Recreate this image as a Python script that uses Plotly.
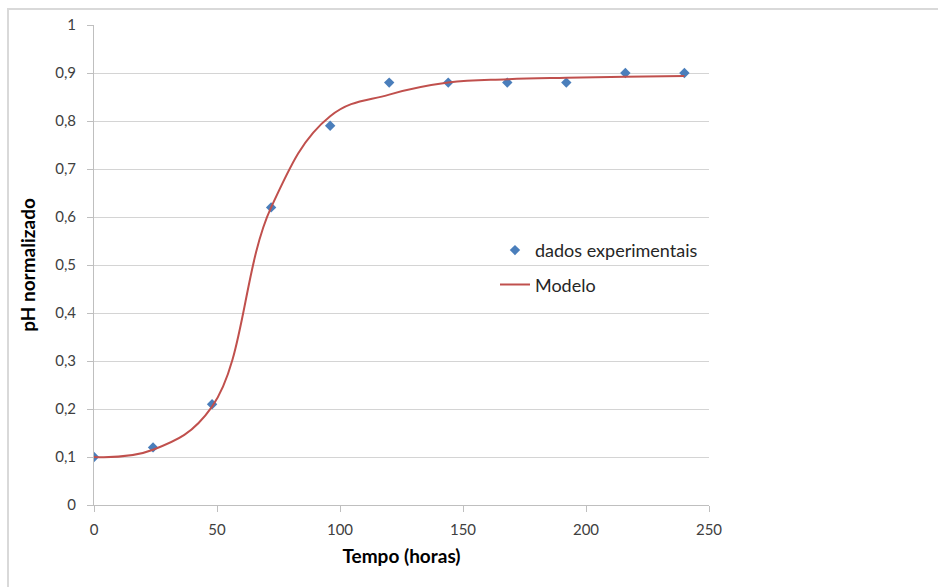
import plotly.graph_objects as go

# Data
tempo = [0, 24, 48, 72, 96, 120, 144, 168, 192, 216, 240]
ph_exp = [0.10, 0.12, 0.21, 0.62, 0.79, 0.88, 0.88, 0.88, 0.88, 0.90, 0.90]
ph_modelo = [0.10, 0.115, 0.205, 0.62, 0.81, 0.855, 0.88, 0.887, 0.89, 0.892, 0.894]

x_ticks = [0, 50, 100, 150, 200, 250]
y_ticks = [0, 0.1, 0.2, 0.3, 0.4, 0.5, 0.6, 0.7, 0.8, 0.9, 1]

FONT = "Lato, Carlito, Calibri, sans-serif"

fig = go.Figure()
fig.add_trace(go.Scatter(
    x=tempo, y=ph_exp, mode="markers", name="dados experimentais", legendgroup="a",
    marker=dict(symbol="diamond", size=8, color="#4a7ebb"),
))
fig.add_trace(go.Scatter(
    x=tempo, y=ph_modelo, mode="lines", name="Modelo", legendgroup="b",
    line=dict(color="#c0504d", width=2, shape="spline", smoothing=1.15),
))

axis_common = dict(
    showline=True, linecolor="#bfbfbf", linewidth=1,
    ticks="outside", ticklen=6, tickcolor="#bfbfbf", tickwidth=1,
    tickfont=dict(family=FONT, size=15, color="#404040"),
    zeroline=False,
)

fig.update_layout(
    width=938, height=587,
    margin=dict(l=94, r=229, t=25, b=82),
    paper_bgcolor="white", plot_bgcolor="white",
    separators=",.",
    showlegend=True,
    legend=dict(
        x=0.652, y=0.495, xanchor="left", yanchor="middle",
        bgcolor="rgba(0,0,0,0)", traceorder="grouped",
        font=dict(family=FONT, size=18, color="#262626"),
        itemwidth=30, tracegroupgap=8,
    ),
    xaxis=dict(
        range=[0, 250], tickvals=x_ticks, showgrid=False,
        title=dict(text="<b>Tempo (horas)</b>", font=dict(family=FONT, size=19, color="#000000"), standoff=12),
        ticklabelstandoff=5,
        **axis_common,
    ),
    yaxis=dict(
        range=[0, 1], tickvals=y_ticks, showgrid=True, gridcolor="#d4d4d4", gridwidth=1,
        title=dict(text="<b>pH normalizado</b>", font=dict(family=FONT, size=19, color="#000000"), standoff=14),
        ticklabelstandoff=8,
        **axis_common,
    ),
    shapes=[dict(
        type="rect", xref="paper", yref="paper",
        x0=-0.1398, x1=1.6, y0=-0.25, y1=1.0333,
        line=dict(color="#d9d9d9", width=2), fillcolor="rgba(0,0,0,0)", layer="below",
    )],
)

fig.write_html("out.html")
